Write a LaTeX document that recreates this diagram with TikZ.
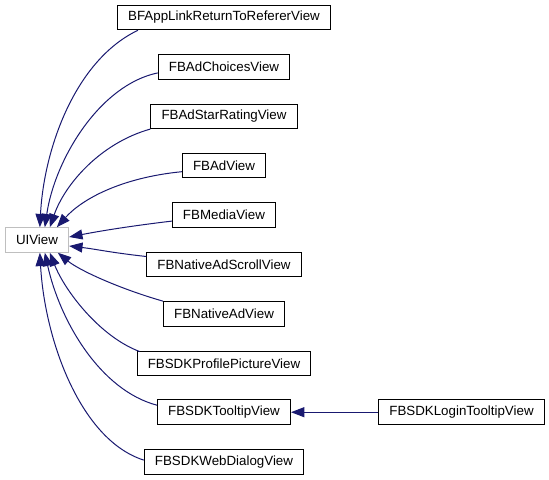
\documentclass[tikz,border=0pt]{standalone}
\usepackage{fontspec}
\setmainfont{Liberation Sans}
\usetikzlibrary{arrows.meta,calc}
\definecolor{edgeblue}{HTML}{191970}
\definecolor{grayframe}{HTML}{BFBFBF}
\tikzset{
  cls/.style={draw=black, line width=0.75pt, fill=white, inner xsep=8pt, inner ysep=0pt,
    minimum height=18.4pt, font=\fontsize{10pt}{12pt}\selectfont},
  root/.style={cls, draw=grayframe},
  edge/.style={draw=edgeblue, line width=0.75pt, -{Triangle[length=10pt,width=7.5pt]}}
}
\begin{document}
\begin{tikzpicture}[x=0.75pt,y=-0.75pt]
\useasboundingbox (0,0) rectangle (549,479);
\node[root] (ui) at (37,240) {UIView};
\node[cls] (n1) at (224,17.5) {BFAppLinkReturnToRefererView};
\node[cls] (n2) at (224,66.9) {FBAdChoicesView};
\node[cls] (n3) at (224,116.3) {FBAdStarRatingView};
\node[cls] (n4) at (224,165.7) {FBAdView};
\node[cls] (n5) at (224,215.1) {FBMediaView};
\node[cls] (n6) at (224,264.5) {FBNativeAdScrollView};
\node[cls] (n7) at (224,313.9) {FBNativeAdView};
\node[cls] (n8) at (224,363.3) {FBSDKProfilePictureView};
\node[cls] (n9) at (224,412.2) {FBSDKTooltipView};
\node[cls] (n10) at (224,462.1) {FBSDKWebDialogView};
\node[cls] (login) at (461.5,412.2) {FBSDKLoginTooltipView};

\draw[edge] ($(n1.south west)+(21,0)$) .. controls +(-63,30) and +(4,-78) .. ($(ui.north west)+(35,0)$);
\draw[edge] ($(n2.west)+(0,6)$) .. controls +(-58,12) and +(10,-68) .. ($(ui.north west)+(40,0)$);
\draw[edge] (n3.south west) .. controls +(-50,14) and +(15,-43) .. ($(ui.north west)+(45,0)$);
\draw[edge] ($(n4.west)+(0,6)$) .. controls +(-61,6) and +(25,-28) .. ($(ui.north west)+(52,0)$);
\draw[edge] ($(n5.west)+(0,6)$) .. controls +(-42,5) and +(31,-6) .. ($(ui.east)+(0,-3)$);
\draw[edge] ($(n6.west)+(0,-8)$) .. controls +(-36,-4) and +(26,3) .. ($(ui.east)+(0,6)$);
\draw[edge] (n7.north west) .. controls +(-42,-12) and +(22,18) .. ($(ui.south west)+(53,0)$);
\draw[edge] ($(n8.north west)+(3,1)$) .. controls +(-40,-15) and +(15,38) .. ($(ui.south west)+(45,0)$);
\draw[edge] ($(n9.west)+(0,-7)$) .. controls +(-57,-15) and +(15,68) .. ($(ui.south west)+(40,0)$);
\draw[edge] ($(n10.west)+(0,-2)$) .. controls +(-63,-20) and +(5,88) .. ($(ui.south west)+(35,0)$);
\draw[edge] (login.west) -- (n9.east);
\end{tikzpicture}
\end{document}
